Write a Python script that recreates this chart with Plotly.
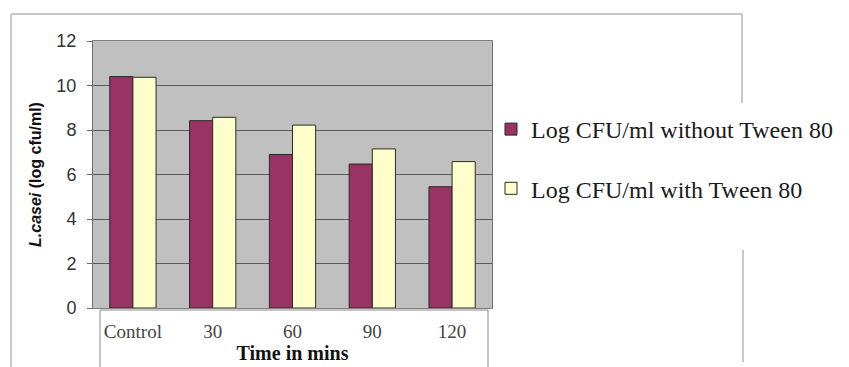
import plotly.graph_objects as go

categories = ["Control", "30", "60", "90", "120"]
without_tween = [10.4, 8.42, 6.9, 6.47, 5.45]
with_tween = [10.37, 8.57, 8.22, 7.15, 6.58]
series_names = ["Log CFU/ml without Tween 80", "Log CFU/ml with Tween 80"]
y_ticks = [0, 2, 4, 6, 8, 10, 12]

# page is 849x367 but the html body has an 8px margin
OFF = 8
W, H = 849 - OFF, 367 - OFF
L, R, T, B = 93, 492, 41, 308  # plot area in page pixels


def px(x):
    return (x - L) / (R - L)


def py(y):
    return (B - y) / (B - T)


fig = go.Figure()
fig.add_trace(go.Bar(
    x=categories, y=without_tween, name=series_names[0], legendgroup="a",
    marker=dict(color="#993366", line=dict(color="#2b2b1f", width=1)),
))
fig.add_trace(go.Bar(
    x=categories, y=with_tween, name=series_names[1], legendgroup="b",
    marker=dict(color="#FFFFCC", line=dict(color="#2b2b1f", width=1)),
))

shapes = [
    # x-axis label box
    dict(type="rect", xref="paper", yref="paper", x0=px(100), x1=px(488), y0=py(310), y1=py(385),
         line=dict(color="#8a8a8a", width=1), fillcolor="white", layer="below"),
    # outer frame pieces
    dict(type="line", xref="paper", yref="paper", x0=px(11), x1=px(742), y0=py(14), y1=py(14),
         line=dict(color="#c8c8c8", width=2)),
    dict(type="line", xref="paper", yref="paper", x0=px(11), x1=px(11), y0=py(14), y1=py(370),
         line=dict(color="#c8c8c8", width=2)),
    dict(type="line", xref="paper", yref="paper", x0=px(742), x1=px(742), y0=py(14), y1=py(103),
         line=dict(color="#c8c8c8", width=2)),
    dict(type="line", xref="paper", yref="paper", x0=px(743), x1=px(743), y0=py(250), y1=py(362),
         line=dict(color="#c8c8c8", width=2)),
]

fig.update_layout(
    width=W, height=H,
    margin=dict(l=L - OFF, r=849 - R, t=T - OFF, b=367 - B, autoexpand=False),
    paper_bgcolor="white",
    plot_bgcolor="#c0c0c0",
    barmode="group",
    bargap=0.42,
    bargroupgap=0,
    shapes=shapes,
    showlegend=True,
    legend=dict(
        x=px(491), xanchor="left", y=py(159), yanchor="middle",
        font=dict(family="Liberation Serif, Times New Roman, serif", size=24, color="#1a1a1a"),
        traceorder="grouped", tracegroupgap=25, bgcolor="rgba(255,255,255,0)",
        itemwidth=30,
    ),
    xaxis=dict(
        type="category", showgrid=False, showline=True, linecolor="#808080", mirror=True,
        tickfont=dict(family="Liberation Serif, Times New Roman, serif", size=19, color="#444444"),
        ticks="", ticklabelstandoff=6,
        title=dict(text="<b>Time in mins</b>", standoff=2,
                   font=dict(family="Liberation Serif, Times New Roman, serif", size=20, color="#111111")),
    ),
    yaxis=dict(
        range=[0, 12], tickvals=y_ticks, showgrid=True, gridcolor="#5a5a5a", gridwidth=1,
        showline=True, linecolor="#6e6e6e", mirror=True, zeroline=False,
        ticks="outside", ticklen=5, tickcolor="#6e6e6e",
        tickfont=dict(family="Liberation Sans, Arial, sans-serif", size=18, color="#333333"),
        ticklabelstandoff=7,
        title=dict(text="<b><i>L.casei</i> (log cfu/ml)</b>", standoff=10,
                   font=dict(family="Liberation Sans, Arial, sans-serif", size=16, color="#111111")),
    ),
)

fig.write_html("out.html")
